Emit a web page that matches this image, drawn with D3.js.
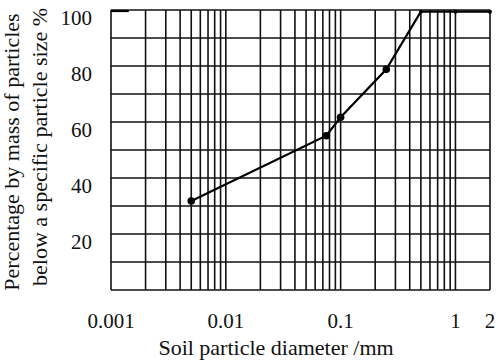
<!DOCTYPE html>
<html>
<head>
<meta charset="utf-8">
<script src="https://cdn.jsdelivr.net/npm/d3@7"></script>
<style>
  html, body { margin: 0; padding: 0; background: #fff; }
</style>
</head>
<body>
<svg id="chart" width="498" height="363"></svg>
<script>
// grading curve
var diameters = [0.005, 0.075, 0.1, 0.25, 0.5, 1, 2];
var passing   = [31.8, 55.1, 61.7, 78.8, 99.4, 99.4, 99.4];
var bigDot    = [true, true, true, true, false, false, false];
// the small stub at the top left corner of the original
var stubX = [0.001, 0.00143];
var stubY = [99.6, 99.6];

var xTicks = [0.001, 0.01, 0.1, 1, 2];
var yTicks = [20, 40, 60, 80, 100];
var yGrid = d3.range(0, 101, 10);
var decades = [0.001, 0.01, 0.1];

var FONT = '"Liberation Serif", "Times New Roman", Times, serif';
var L = 111, R = 490, T = 10, B = 290;

var svg = d3.select('#chart');
var x = d3.scaleLog().domain([0.001, 2]).range([L, R]);
var y = d3.scaleLinear().domain([0, 100]).range([B, T]);

// vertical grid: 1..9 in each decade, plus 1 and 2
var xGrid = [];
decades.forEach(function (d) { for (var k = 1; k <= 9; k++) xGrid.push(d * k); });
xGrid.push(1, 2);

var grid = svg.append('g').attr('stroke', '#111').attr('stroke-width', 1.6);
grid.selectAll('line.v').data(xGrid).enter().append('line').attr('class', 'v')
  .attr('x1', function (d) { return x(d); }).attr('x2', function (d) { return x(d); })
  .attr('y1', T).attr('y2', B);
grid.selectAll('line.h').data(yGrid).enter().append('line').attr('class', 'h')
  .attr('x1', L).attr('x2', R)
  .attr('y1', function (d) { return y(d); }).attr('y2', function (d) { return y(d); });

// tick labels
svg.append('g').selectAll('text').data(yTicks).enter().append('text')
  .attr('x', 92).attr('y', function (d) { return y(d) + 14.5; })
  .attr('text-anchor', 'end').attr('font-family', FONT).attr('font-size', 21).attr('fill', '#111')
  .text(function (d) { return d; });

svg.append('g').selectAll('text').data(xTicks).enter().append('text')
  .attr('x', function (d) { return x(d); }).attr('y', 328)
  .attr('text-anchor', 'middle').attr('font-family', FONT).attr('font-size', 21).attr('fill', '#111')
  .text(function (d) { return d; });

// axis titles
svg.append('text').attr('x', 276).attr('y', 355).attr('text-anchor', 'middle')
  .attr('font-family', FONT).attr('font-size', 22).attr('fill', '#111')
  .text('Soil particle diameter /mm');

var yt = svg.append('text').attr('transform', 'rotate(-90)').attr('text-anchor', 'middle')
  .attr('font-family', FONT).attr('font-size', 22).attr('fill', '#111');
yt.append('tspan').attr('x', -152).attr('y', 19).text('Percentage by mass of particles');
yt.append('tspan').attr('x', -147).attr('y', 47).text('below a specific particle size %');

// curve
var pts = diameters.map(function (d, i) { return { d: d, p: passing[i], big: bigDot[i] }; });
var line = d3.line().x(function (d) { return x(d.d); }).y(function (d) { return y(d.p); });
svg.append('path').datum(pts).attr('d', line)
  .attr('fill', 'none').attr('stroke', '#000').attr('stroke-width', 2.2);

svg.append('path').datum(stubX.map(function (d, i) { return { d: d, p: stubY[i] }; })).attr('d', line)
  .attr('fill', 'none').attr('stroke', '#000').attr('stroke-width', 2);

svg.append('g').selectAll('circle').data(pts).enter().append('circle')
  .attr('cx', function (d) { return x(d.d); }).attr('cy', function (d) { return y(d.p); })
  .attr('r', function (d) { return d.big ? 3.8 : 2; })
  .attr('fill', '#000');
</script>
</body>
</html>
